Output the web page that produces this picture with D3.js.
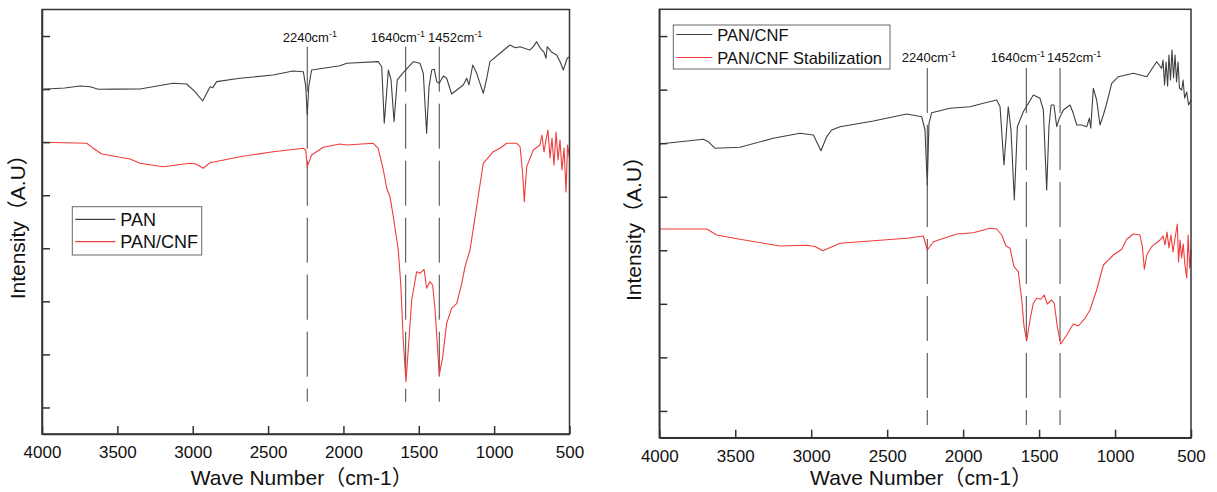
<!DOCTYPE html>
<html><head><meta charset="utf-8">
<script src="https://cdn.jsdelivr.net/npm/d3@7"></script>
<style>
html,body{margin:0;padding:0;background:#fff;}
svg text{font-family:"Liberation Sans",Arial,"Noto Sans CJK SC",sans-serif;}
</style></head>
<body>
<svg id="chart" width="1217" height="492"></svg>
<script>
// ---------- DATA ----------
const xTicks = [4000, 3500, 3000, 2500, 2000, 1500, 1000, 500];
const yTicks = [0.5, 1.5, 2.5, 3.5, 4.5, 5.5, 6.5, 7.5];

// Left panel: PAN (black) [wavenumber, intensity a.u.]
const panLeft = [[4000,6.496],[3850,6.520],[3748,6.559],[3681,6.545],[3626,6.496],[3500,6.500],[3350,6.502],[3131,6.609],[3040,6.596],[2985,6.451],[2934,6.276],[2907,6.421],[2885,6.545],[2867,6.527],[2841,6.640],[2686,6.704],[2467,6.766],[2335,6.841],[2266,6.828],[2250,6.545],[2240,6.012],[2230,6.545],[2211,6.860],[2023,6.941],[1978,6.986],[1769,7.017],[1746,6.922],[1729,5.856],[1702,6.860],[1684,6.672],[1664,5.886],[1643,6.672],[1603,6.809],[1536,7.017],[1492,6.986],[1470,6.798],[1448,5.667],[1432,6.545],[1414,6.860],[1397,6.873],[1381,6.640],[1364,6.609],[1337,6.747],[1315,6.704],[1282,6.408],[1248,6.483],[1205,6.577],[1182,6.704],[1167,6.577],[1142,6.954],[1116,6.798],[1094,6.609],[1072,6.421],[1049,6.704],[1028,7.017],[961,7.175],[895,7.331],[860,7.280],[828,7.299],[790,7.260],[762,7.237],[740,7.300],[718,7.394],[700,7.300],[684,7.237],[670,7.200],[656,7.081],[648,7.299],[620,7.200],[585,7.143],[560,7.000],[541,6.860],[515,7.081],[500,7.111]];

// Left panel: PAN/CNF (red)
const pancnfLeft = [[4000,5.497],[3703,5.479],[3660,5.384],[3604,5.277],[3416,5.183],[3350,5.102],[3195,5.038],[3018,5.102],[2978,5.089],[2930,5.008],[2885,5.113],[2686,5.226],[2465,5.320],[2266,5.384],[2250,5.352],[2240,5.038],[2211,5.258],[2134,5.403],[2023,5.465],[1978,5.447],[1802,5.479],[1769,5.384],[1735,4.975],[1713,4.631],[1691,4.472],[1669,4.095],[1636,3.468],[1620,2.840],[1603,1.772],[1585,0.986],[1570,1.583],[1547,2.525],[1514,3.059],[1492,3.029],[1465,3.104],[1448,2.746],[1426,2.870],[1408,2.808],[1392,2.337],[1364,1.112],[1341,1.457],[1315,2.086],[1282,2.369],[1248,2.463],[1215,2.840],[1193,3.153],[1160,3.468],[1116,4.284],[1072,5.102],[1006,5.320],[961,5.384],[917,5.479],[850,5.479],[828,5.415],[811,4.913],[800,4.378],[784,5.038],[740,5.352],[696,5.447],[683,5.635],[669,5.315],[656,5.541],[643,5.729],[629,5.202],[616,5.579],[603,5.070],[589,5.692],[576,5.164],[563,5.541],[550,4.975],[536,5.390],[523,4.561],[513,5.447],[500,5.202]];

// Right panel: PAN/CNF (black)
const pancnfRight = [[4000,5.485],[3710,5.572],[3677,5.528],[3633,5.404],[3469,5.423],[3250,5.591],[3074,5.684],[2986,5.653],[2936,5.359],[2898,5.621],[2865,5.746],[2810,5.808],[2591,5.914],[2371,6.045],[2273,5.994],[2251,5.746],[2236,4.719],[2225,5.871],[2207,6.069],[2086,6.151],[1955,6.181],[1867,6.245],[1779,6.306],[1757,6.181],[1731,5.092],[1703,6.181],[1685,5.746],[1663,4.439],[1643,5.808],[1604,6.088],[1538,6.400],[1494,6.338],[1472,6.120],[1450,4.626],[1435,5.808],[1421,6.213],[1402,6.213],[1384,5.808],[1367,5.965],[1340,6.120],[1296,6.213],[1275,6.058],[1252,5.839],[1219,5.839],[1186,5.808],[1169,5.965],[1160,5.778],[1143,6.525],[1121,6.306],[1099,5.839],[1077,6.026],[1055,6.245],[1022,6.618],[978,6.741],[880,6.805],[791,6.741],[726,7.021],[693,6.898],[684,7.053],[674,6.586],[664,7.016],[654,6.568],[645,7.147],[635,6.680],[625,7.240],[615,6.717],[605,7.147],[595,6.642],[585,7.016],[576,6.530],[561,6.493],[552,6.680],[542,6.344],[528,6.456],[516,6.213],[500,6.306]];

// Right panel: PAN/CNF Stabilization (red)
const stabRight = [[4000,3.897],[3688,3.897],[3622,3.785],[3469,3.705],[3205,3.580],[3030,3.593],[2975,3.570],[2924,3.492],[2810,3.630],[2371,3.724],[2262,3.767],[2236,3.505],[2196,3.660],[2042,3.804],[1933,3.828],[1823,3.910],[1779,3.897],[1746,3.785],[1718,3.580],[1691,3.537],[1665,3.193],[1637,3.100],[1614,2.571],[1599,2.073],[1581,1.811],[1560,2.198],[1538,2.510],[1516,2.603],[1489,2.585],[1466,2.665],[1446,2.497],[1417,2.571],[1400,2.510],[1380,2.073],[1358,1.750],[1318,1.918],[1275,2.123],[1242,2.086],[1198,2.230],[1165,2.385],[1121,2.758],[1077,3.225],[1044,3.318],[1011,3.412],[956,3.518],[923,3.705],[880,3.804],[836,3.785],[820,3.567],[807,3.145],[791,3.412],[759,3.567],[704,3.692],[684,3.767],[671,3.599],[658,3.841],[645,3.542],[632,3.785],[619,3.468],[605,3.729],[590,3.991],[582,3.281],[572,3.692],[562,3.356],[551,3.617],[540,3.225],[528,2.982],[519,3.785],[509,3.169],[500,3.505]];

// Peak marker lines and labels
const markLeft = [2240, 1587, 1364];
const markRight = [2236, 1584, 1362];
const markLabels = ["2240", "1640", "1452"];
const labelAnchorLeft = [2403, 1819, 1439];
const labelAnchorRight = [2404, 1818, 1448];

const seriesLeft = ["PAN", "PAN/CNF"];
const seriesRight = ["PAN/CNF", "PAN/CNF Stabilization"];
const colors = ["#404040", "#f03c3c"];

// ---------- DRAW ----------
const svg = d3.select("#chart");

function panel(cfg){
  const x = d3.scaleLinear().domain([4000, 500]).range([cfg.x0, cfg.x1]);
  const y = d3.scaleLinear().domain([0, 8]).range([cfg.y1, cfg.y0]);
  const g = svg.append("g");

  cfg.marks.forEach(m => {
    g.append("line")
      .attr("x1", x(m)).attr("x2", x(m))
      .attr("y1", y(cfg.markTop)).attr("y2", y(cfg.markBot))
      .attr("stroke", "#444").attr("stroke-width", 1)
      .attr("stroke-dasharray", "45,12");
  });

  const line = d3.line().x(d => x(d[0])).y(d => y(d[1]));
  cfg.data.forEach((s, i) => {
    g.append("path").datum(s)
      .attr("fill", "none").attr("stroke", colors[i])
      .attr("stroke-width", 1.1).attr("stroke-linejoin", "round")
      .attr("d", line);
  });

  g.append("rect")
    .attr("x", cfg.x0).attr("y", cfg.y0)
    .attr("width", cfg.x1 - cfg.x0).attr("height", cfg.y1 - cfg.y0)
    .attr("fill", "none").attr("stroke", "#333").attr("stroke-width", 1.5);

  const xa = g.append("g").attr("transform", `translate(0,${cfg.y1})`)
    .call(d3.axisBottom(x).tickValues(xTicks).tickSizeInner(-8).tickSizeOuter(0).tickPadding(12).tickFormat(d3.format("d")));
  xa.select(".domain").attr("stroke", "#333").attr("stroke-width", 1.5);
  xa.selectAll(".tick line").attr("stroke", "#333").attr("stroke-width", 1.5);
  xa.selectAll(".tick text").attr("font-size", 17).attr("fill", "#111")
    .style("font-family", '"Liberation Sans",Arial,sans-serif');

  const ya = g.append("g").attr("transform", `translate(${cfg.x0},0)`)
    .call(d3.axisLeft(y).tickValues(yTicks).tickSizeInner(-8).tickSizeOuter(0).tickFormat(""));
  ya.select(".domain").attr("stroke", "#333").attr("stroke-width", 1.5);
  ya.selectAll(".tick line").attr("stroke", "#333").attr("stroke-width", 1.5);

  cfg.labelAnchors.forEach((a, i) => {
    const t = g.append("text").attr("x", x(a)).attr("y", y(cfg.labelY))
      .attr("font-size", 13).attr("fill", "#111");
    t.append("tspan").text(markLabels[i] + "cm");
    t.append("tspan").text("-1").attr("font-size", 9).attr("dy", -5);
  });

  g.append("text")
    .attr("x", (cfg.x0 + cfg.x1) / 2 - 4).attr("y", 485)
    .attr("text-anchor", "middle").attr("font-size", 21).attr("fill", "#111")
    .text("Wave Number（cm-1）");
  g.append("text")
    .attr("transform", `translate(${cfg.ytx},${(cfg.y0 + cfg.y1) / 2}) rotate(-90)`)
    .attr("text-anchor", "middle").attr("font-size", 21).attr("fill", "#111")
    .text("Intensity（A.U）");

  const L = cfg.legend;
  g.append("rect").attr("x", L.x).attr("y", L.y).attr("width", L.w).attr("height", L.h)
    .attr("fill", "#fff").attr("stroke", "#666").attr("stroke-width", 1);
  cfg.names.forEach((n, i) => {
    const ly = L.y + L.row0 + i * L.dy;
    g.append("line").attr("x1", L.x + 3).attr("x2", L.x + 3 + L.len)
      .attr("y1", ly).attr("y2", ly).attr("stroke", colors[i]).attr("stroke-width", 1.2);
    g.append("text").attr("x", L.x + L.len + 8).attr("y", ly + 6.5)
      .attr("font-size", L.fs).attr("fill", "#111").text(n);
  });
}

panel({x0: 42, x1: 569.5, y0: 9.5, y1: 434, data: [panLeft, pancnfLeft],
  marks: markLeft, markTop: 7.299, markBot: 0.609,
  labelAnchors: labelAnchorLeft, labelY: 7.394, ytx: 25,
  names: seriesLeft,
  legend: {x: 72.3, y: 206.7, w: 129.4, h: 48.3, row0: 12.6, dy: 22.4, len: 40, fs: 18}});

panel({x0: 659.3, x1: 1191, y0: 9.3, y1: 437.7, data: [pancnfRight, stabRight],
  marks: markRight, markTop: 6.904, markBot: 0.237,
  labelAnchors: labelAnchorRight, labelY: 7.016, ytx: 641,
  names: seriesRight,
  legend: {x: 673.3, y: 25, w: 216.7, h: 44, row0: 9.5, dy: 23, len: 36, fs: 16.5}});
</script>
</body></html>
